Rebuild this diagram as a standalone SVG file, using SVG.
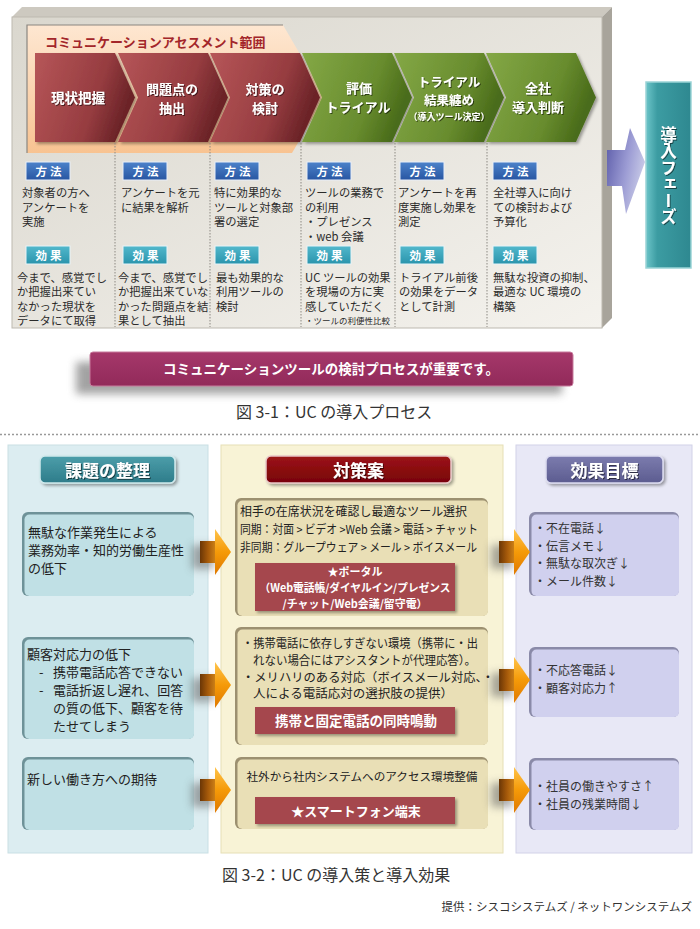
<svg xmlns="http://www.w3.org/2000/svg" width="700" height="929" viewBox="0 0 700 929">
<defs>
<style>
text{font-family:"Noto Sans CJK JP","Noto Sans",sans-serif;}
.cv{font-size:13px;font-weight:bold;fill:#fff;text-anchor:middle;}
.bdg{font-size:11.5px;font-weight:bold;fill:#fff;text-anchor:middle;letter-spacing:3px;}
.p{font-size:11.3px;fill:#2b2b2b;}
.sep{stroke:#8c8982;stroke-width:1;stroke-dasharray:1.5 1.5;fill:none;}
.hd{font-size:17px;font-weight:bold;fill:#fff;text-anchor:middle;}
.lt{font-size:13px;fill:#222;}
.mt{font-size:12px;fill:#222;}
.rt{font-size:12px;fill:#333;}
.rb{font-size:12px;font-weight:bold;fill:#fff;text-anchor:middle;}
.cap{font-size:16px;fill:#333;}
</style>
<linearGradient id="panelG" x1="0" y1="0" x2="1" y2="1"><stop offset="0" stop-color="#dad7ce"/><stop offset="1" stop-color="#f4f2ed"/></linearGradient>
<linearGradient id="rangeG" x1="0" y1="0" x2="0" y2="1"><stop offset="0" stop-color="#fee7d1"/><stop offset="1" stop-color="#f8c391"/></linearGradient>
<linearGradient id="redG" x1="0" y1="0" x2="1" y2="0.3"><stop offset="0" stop-color="#b65658"/><stop offset="0.7" stop-color="#963c40"/><stop offset="1" stop-color="#6c2428"/></linearGradient>
<linearGradient id="grnG" x1="0" y1="0" x2="1" y2="0.3"><stop offset="0" stop-color="#84a846"/><stop offset="0.7" stop-color="#688c2e"/><stop offset="1" stop-color="#4a6c1a"/></linearGradient>
<linearGradient id="blueB" x1="0" y1="0" x2="0" y2="1"><stop offset="0" stop-color="#4c82ca"/><stop offset="1" stop-color="#2856a2"/></linearGradient>
<linearGradient id="tealB" x1="0" y1="0" x2="0" y2="1"><stop offset="0" stop-color="#52b8cc"/><stop offset="1" stop-color="#2a94ac"/></linearGradient>
<linearGradient id="phaseG" x1="0" y1="0" x2="1" y2="0"><stop offset="0" stop-color="#6cc4c8"/><stop offset="0.25" stop-color="#3c9ca2"/><stop offset="1" stop-color="#2e8890"/></linearGradient>
<linearGradient id="purpG" x1="0" y1="0" x2="1" y2="0.4"><stop offset="0" stop-color="#5a5aa8"/><stop offset="0.6" stop-color="#9c9cd4"/><stop offset="1" stop-color="#c6c8e6"/></linearGradient>
<linearGradient id="shaftG" x1="0" y1="0" x2="1" y2="0"><stop offset="0" stop-color="#6a3606"/><stop offset="0.5" stop-color="#a65a0a"/><stop offset="1" stop-color="#d08418"/></linearGradient>
<linearGradient id="headG" x1="0" y1="0" x2="0" y2="1"><stop offset="0" stop-color="#ffc44c"/><stop offset="0.5" stop-color="#f59a08"/><stop offset="1" stop-color="#df7800"/></linearGradient>
<linearGradient id="tealH" x1="0" y1="0" x2="0" y2="1"><stop offset="0" stop-color="#4c9eaa"/><stop offset="1" stop-color="#2e7c8a"/></linearGradient>
<linearGradient id="redH" x1="0" y1="0" x2="0" y2="1"><stop offset="0" stop-color="#9c1418"/><stop offset="1" stop-color="#780408"/></linearGradient>
<linearGradient id="purH" x1="0" y1="0" x2="0" y2="1"><stop offset="0" stop-color="#7c7cae"/><stop offset="1" stop-color="#5c5c90"/></linearGradient>
<linearGradient id="bannerG" x1="0" y1="0" x2="0" y2="1"><stop offset="0" stop-color="#a5386a"/><stop offset="1" stop-color="#922a5a"/></linearGradient>
<filter id="ds" x="-10%" y="-10%" width="130%" height="140%"><feDropShadow dx="2" dy="2" stdDeviation="1.5" flood-color="#000" flood-opacity="0.35"/></filter>
<filter id="bl" x="-50%" y="-50%" width="200%" height="200%"><feGaussianBlur stdDeviation="4"/></filter>
<filter id="ts" x="-10%" y="-20%" width="130%" height="150%"><feDropShadow dx="1" dy="1" stdDeviation="0.6" flood-color="#000" flood-opacity="0.55"/></filter>
<g id="oarrow">
<rect x="-8" y="-7" width="22" height="24" fill="#555" opacity="0.5" filter="url(#bl)"/>
<rect x="0" y="-11" width="16" height="22" fill="url(#shaftG)"/>
<polygon points="15,-23 31,0 15,23" fill="url(#headG)"/>
</g>
</defs>

<!-- ===== Figure 3-1 ===== -->
<g id="panel">
<polygon points="12,17 22,7 612,7 602,17" fill="#cdc9c0"/>
<polygon points="602,17 612,7 612,318 602,328" fill="#a8a49b"/>
<rect x="12" y="17" width="590" height="311" fill="url(#panelG)" stroke="#bdb9b0"/>
</g>

<g id="range">
<polygon points="27,25 283,25 325,97 292,153 27,153" fill="url(#rangeG)"/>
<polyline points="27,153 27,25 283,25" fill="none" stroke="#8a8680" stroke-width="1.2"/>
<text x="45" y="47" style="font-size:13px;font-weight:bold;fill:#a3262a;">コミュニケーションアセスメント範囲</text>
</g>

<g id="chevrons" filter="url(#ds)">
<g id="step1"><polygon points="35,53 115,53 135,97.5 115,142 35,142" fill="url(#redG)"/>
<text class="cv" x="78" y="103" style="font-size:13.5px" filter="url(#ts)">現状把握</text></g>
<g id="step2"><polygon points="118,53 208,53 228,97.5 208,142 118,142 138,97.5" fill="url(#redG)"/>
<text class="cv" x="172" y="94" filter="url(#ts)">問題点の</text><text class="cv" x="172" y="113" filter="url(#ts)">抽出</text></g>
<g id="step3"><polygon points="210,53 300,53 320,97.5 300,142 210,142 230,97.5" fill="url(#redG)"/>
<text class="cv" x="265" y="94" filter="url(#ts)">対策の</text><text class="cv" x="265" y="113" filter="url(#ts)">検討</text></g>
<g id="step4"><polygon points="302,53 392,53 412,97.5 392,142 302,142 322,97.5" fill="url(#grnG)"/>
<text class="cv" x="359" y="93" filter="url(#ts)">評価</text><text class="cv" x="358" y="112" filter="url(#ts)">トライアル</text></g>
<g id="step5"><polygon points="394,53 484,53 504,97.5 484,142 394,142 414,97.5" fill="url(#grnG)"/>
<text class="cv" x="449" y="87" style="font-size:12.5px" filter="url(#ts)">トライアル</text><text class="cv" x="449" y="105" style="font-size:12.5px" filter="url(#ts)">結果纏め</text>
<text class="cv" x="449" y="119.5" style="font-size:9px" filter="url(#ts)">（導入ツール決定）</text></g>
<g id="step6"><polygon points="486,53 576,53 596,97.5 576,142 486,142 506,97.5" fill="url(#grnG)"/>
<text class="cv" x="538" y="93" filter="url(#ts)">全社</text><text class="cv" x="538" y="112" filter="url(#ts)">導入判断</text></g>
</g>

<g id="separators">
<line class="sep" x1="115" y1="143" x2="115" y2="327"/>
<line class="sep" x1="210" y1="143" x2="210" y2="327"/>
<line class="sep" x1="301" y1="143" x2="301" y2="327"/>
<line class="sep" x1="395" y1="143" x2="395" y2="327"/>
<line class="sep" x1="487" y1="143" x2="487" y2="327"/>
</g>

<g id="badges">
<g><rect x="26" y="162" width="44" height="18" fill="url(#blueB)" stroke="#e8eef8"/><text class="bdg" x="50" y="175.5">方法</text></g>
<g><rect x="123" y="162" width="44" height="18" fill="url(#blueB)" stroke="#e8eef8"/><text class="bdg" x="147" y="175.5">方法</text></g>
<g><rect x="215" y="162" width="44" height="18" fill="url(#blueB)" stroke="#e8eef8"/><text class="bdg" x="239" y="175.5">方法</text></g>
<g><rect x="307" y="162" width="44" height="18" fill="url(#blueB)" stroke="#e8eef8"/><text class="bdg" x="331" y="175.5">方法</text></g>
<g><rect x="400" y="162" width="44" height="18" fill="url(#blueB)" stroke="#e8eef8"/><text class="bdg" x="424" y="175.5">方法</text></g>
<g><rect x="493" y="162" width="44" height="18" fill="url(#blueB)" stroke="#e8eef8"/><text class="bdg" x="517" y="175.5">方法</text></g>
<g><rect x="26" y="246" width="44" height="18" fill="url(#tealB)" stroke="#e8f4f8"/><text class="bdg" x="50" y="259.5">効果</text></g>
<g><rect x="123" y="246" width="44" height="18" fill="url(#tealB)" stroke="#e8f4f8"/><text class="bdg" x="147" y="259.5">効果</text></g>
<g><rect x="215" y="246" width="44" height="18" fill="url(#tealB)" stroke="#e8f4f8"/><text class="bdg" x="239" y="259.5">効果</text></g>
<g><rect x="307" y="246" width="44" height="18" fill="url(#tealB)" stroke="#e8f4f8"/><text class="bdg" x="331" y="259.5">効果</text></g>
<g><rect x="400" y="246" width="44" height="18" fill="url(#tealB)" stroke="#e8f4f8"/><text class="bdg" x="424" y="259.5">効果</text></g>
<g><rect x="493" y="246" width="44" height="18" fill="url(#tealB)" stroke="#e8f4f8"/><text class="bdg" x="517" y="259.5">効果</text></g>
</g>

<g id="col-texts">
<text class="p" x="22" y="197">対象者の方へ</text>
<text class="p" x="22" y="211.5">アンケートを</text>
<text class="p" x="22" y="226">実施</text>
<text class="p" x="17" y="281.5">今まで、感覚でし</text>
<text class="p" x="17" y="296">か把握出来てい</text>
<text class="p" x="17" y="310.5">なかった現状を</text>
<text class="p" x="17" y="325">データにて取得</text>

<text class="p" x="121" y="197">アンケートを元</text>
<text class="p" x="121" y="211.5">に結果を解析</text>
<text class="p" x="118" y="281.5">今まで、感覚でし</text>
<text class="p" x="118" y="296">か把握出来ていな</text>
<text class="p" x="118" y="310.5">かった問題点を結</text>
<text class="p" x="118" y="325">果として抽出</text>

<text class="p" x="214" y="197">特に効果的な</text>
<text class="p" x="214" y="211.5">ツールと対象部</text>
<text class="p" x="214" y="226">署の選定</text>
<text class="p" x="216" y="281.5">最も効果的な</text>
<text class="p" x="216" y="296">利用ツールの</text>
<text class="p" x="216" y="310.5">検討</text>

<text class="p" x="305" y="197">ツールの業務で</text>
<text class="p" x="305" y="211.5">の利用</text>
<text class="p" x="305" y="226">・プレゼンス</text>
<text class="p" x="305" y="240.5">・web 会議</text>
<text class="p" x="305" y="281.5">UC ツールの効果</text>
<text class="p" x="305" y="296">を現場の方に実</text>
<text class="p" x="305" y="310.5">感していただく</text>
<text class="p" x="305" y="324" style="font-size:8.5px">・ツールの利便性比較</text>

<text class="p" x="398" y="197">アンケートを再</text>
<text class="p" x="398" y="211.5">度実施し効果を</text>
<text class="p" x="398" y="226">測定</text>
<text class="p" x="399" y="281.5">トライアル前後</text>
<text class="p" x="399" y="296">の効果をデータ</text>
<text class="p" x="399" y="310.5">として計測</text>

<text class="p" x="493" y="197">全社導入に向け</text>
<text class="p" x="493" y="211.5">ての検討および</text>
<text class="p" x="493" y="226">予算化</text>
<text class="p" x="493" y="281.5">無駄な投資の抑制、</text>
<text class="p" x="493" y="296">最適な UC 環境の</text>
<text class="p" x="493" y="310.5">構築</text>
</g>

<g id="to-phase">
<polygon points="607,150 625,150 630,128 645,162 626,214 622,186 607,186" fill="url(#purpG)"/>
</g>
<g id="phase">
<rect x="646" y="82" width="45" height="186" fill="url(#phaseG)" stroke="#9ad4d6" stroke-width="1.5"/>
<text x="668.5" y="126" style="writing-mode:vertical-rl;font-size:16.5px;font-weight:bold;fill:#fff;" filter="url(#ts)">導入フェーズ</text>
</g>

<g id="banner">
<rect x="76" y="362" width="486" height="32" fill="#666" opacity="0.6" filter="url(#bl)"/>
<rect x="90" y="352" width="483" height="34" rx="3" fill="url(#bannerG)" stroke="#c77a9c" stroke-width="1"/>
<text x="331" y="374" style="font-size:13.5px;font-weight:bold;fill:#fff;text-anchor:middle;">コミュニケーションツールの検討プロセスが重要です。</text>
</g>
<text class="cap" x="236" y="418">図 3-1：UC の導入プロセス</text>

<line x1="0" y1="434.5" x2="700" y2="434.5" stroke="#999" stroke-width="1.3" stroke-dasharray="2 2"/>

<!-- ===== Figure 3-2 ===== -->
<g id="columns">
<rect x="8" y="445" width="200" height="408" fill="#dcedf1" stroke="#c9dfe4"/>
<rect x="221" y="445" width="282" height="408" fill="#f8f3d6" stroke="#e6dfb6"/>
<rect x="516" y="445" width="176" height="408" fill="#e8e8f6" stroke="#d2d2e8"/>
</g>

<g id="hdr-issue">
<rect x="40" y="456" width="135" height="27" rx="5" fill="url(#tealH)" stroke="#cfe9ec" stroke-width="1.5" filter="url(#ds)"/>
<text class="hd" x="107.5" y="477" filter="url(#ts)">課題の整理</text>
</g>
<g id="hdr-measure">
<rect x="266" y="456" width="185" height="27" rx="5" fill="url(#redH)" stroke="#e8c8c8" stroke-width="1.5" filter="url(#ds)"/>
<text class="hd" x="358.5" y="477" filter="url(#ts)">対策案</text>
</g>
<g id="hdr-goal">
<rect x="546" y="456" width="117" height="27" rx="5" fill="url(#purH)" stroke="#dcdcf0" stroke-width="1.5" filter="url(#ds)"/>
<text class="hd" x="604.5" y="477" filter="url(#ts)">効果目標</text>
</g>

<g id="issue1">
<rect x="22" y="512" width="172" height="84" rx="6" fill="#6e9298"/>
<rect x="24.5" y="514.5" width="169.5" height="81.5" rx="5" fill="#c0e0e5"/>
<text class="lt" x="28" y="537">無駄な作業発生による</text>
<text class="lt" x="28" y="555">業務効率・知的労働生産性</text>
<text class="lt" x="28" y="573">の低下</text>
</g>
<g id="issue2">
<rect x="22" y="637" width="172" height="102" rx="6" fill="#6e9298"/>
<rect x="24.5" y="639.5" width="169.5" height="99.5" rx="5" fill="#c0e0e5"/>
<text class="lt" x="27" y="659">顧客対応力の低下</text>
<text class="lt" x="39" y="677">-</text><text class="lt" x="53" y="677">携帯電話応答できない</text>
<text class="lt" x="39" y="695">-</text><text class="lt" x="53" y="695">電話折返し遅れ、回答</text>
<text class="lt" x="53" y="713">の質の低下、顧客を待</text>
<text class="lt" x="53" y="731">たせてしまう</text>
</g>
<g id="issue3">
<rect x="22" y="757" width="172" height="73" rx="6" fill="#6e9298"/>
<rect x="24.5" y="759.5" width="169.5" height="70.5" rx="5" fill="#c0e0e5"/>
<text class="lt" x="27" y="784">新しい働き方への期待</text>
</g>

<g id="measure1">
<rect x="235" y="498" width="253" height="118" rx="6" fill="#9c9070"/>
<rect x="237.5" y="500.5" width="250.5" height="115.5" rx="5" fill="#e9dfb6"/>
<text class="mt" x="240" y="515.5" textLength="227" lengthAdjust="spacingAndGlyphs">相手の在席状況を確認し最適なツール選択</text>
<text class="mt" x="240" y="533.5" textLength="238" lengthAdjust="spacingAndGlyphs">同期：対面 &gt; ビデオ &gt;Web 会議 &gt; 電話 &gt; チャット</text>
<text class="mt" x="240" y="551.5" textLength="237" lengthAdjust="spacingAndGlyphs">非同期：グループウェア &gt; メール &gt; ボイスメール</text>
<rect x="255" y="563" width="200" height="48" fill="#a5464e" filter="url(#ds)"/>
<text class="rb" x="355" y="575.5" style="font-size:11px">★ポータル</text>
<text class="rb" x="355" y="591.5" style="font-size:11px" textLength="191" lengthAdjust="spacingAndGlyphs">（Web電話帳/ダイヤルイン/プレゼンス</text>
<text class="rb" x="355" y="607.5" style="font-size:11px" textLength="145" lengthAdjust="spacingAndGlyphs">/チャット/Web会議/留守電）</text>
</g>
<g id="measure2">
<rect x="235" y="627" width="253" height="118" rx="6" fill="#9c9070"/>
<rect x="237.5" y="629.5" width="250.5" height="115.5" rx="5" fill="#e9dfb6"/>
<text class="mt" x="242" y="647.5" textLength="236" lengthAdjust="spacingAndGlyphs">・携帯電話に依存しすぎない環境（携帯に・出</text>
<text class="mt" x="253" y="664.5" textLength="223" lengthAdjust="spacingAndGlyphs">れない場合にはアシスタントが代理応答）。</text>
<text class="mt" x="242" y="681.5" textLength="252" lengthAdjust="spacingAndGlyphs">・メリハリのある対応（ボイスメール対応、・</text>
<text class="mt" x="253" y="698" textLength="200" lengthAdjust="spacingAndGlyphs">人による電話応対の選択肢の提供）</text>
<rect x="255" y="707" width="200" height="27" fill="#a5464e" filter="url(#ds)"/>
<text class="rb" x="356" y="726" style="font-size:13.5px">携帯と固定電話の同時鳴動</text>
</g>
<g id="measure3">
<rect x="235" y="757" width="253" height="72" rx="6" fill="#9c9070"/>
<rect x="237.5" y="759.5" width="250.5" height="69.5" rx="5" fill="#e9dfb6"/>
<text class="mt" x="362" y="781" style="font-size:11.6px;text-anchor:middle">社外から社内システムへのアクセス環境整備</text>
<rect x="255" y="797" width="200" height="27" fill="#a5464e" filter="url(#ds)"/>
<text class="rb" x="356" y="816" style="font-size:13px">★スマートフォン端末</text>
</g>

<g id="goal1">
<rect x="529" y="512" width="150" height="84" rx="6" fill="#8a8aa8"/>
<rect x="531.5" y="514.5" width="147.5" height="81.5" rx="5" fill="#d0d0ee"/>
<text class="rt" x="534" y="533">・不在電話↓</text>
<text class="rt" x="534" y="550.5">・伝言メモ↓</text>
<text class="rt" x="534" y="568">・無駄な取次ぎ↓</text>
<text class="rt" x="534" y="585.5">・メール件数↓</text>
</g>
<g id="goal2">
<rect x="529" y="647" width="150" height="70" rx="6" fill="#8a8aa8"/>
<rect x="531.5" y="649.5" width="147.5" height="67.5" rx="5" fill="#d0d0ee"/>
<text class="rt" x="534" y="674.5">・不応答電話↓</text>
<text class="rt" x="534" y="692.5">・顧客対応力↑</text>
</g>
<g id="goal3">
<rect x="529" y="758" width="150" height="72" rx="6" fill="#8a8aa8"/>
<rect x="531.5" y="760.5" width="147.5" height="69.5" rx="5" fill="#d0d0ee"/>
<text class="rt" x="534" y="790.5">・社員の働きやすさ↑</text>
<text class="rt" x="534" y="808.5">・社員の残業時間↓</text>
</g>

<g id="connectors">
<use href="#oarrow" transform="translate(200,552)"/>
<use href="#oarrow" transform="translate(200,685)"/>
<use href="#oarrow" transform="translate(200,790)"/>
<use href="#oarrow" transform="translate(499,552)"/>
<use href="#oarrow" transform="translate(499,680)"/>
<use href="#oarrow" transform="translate(499,790)"/>
</g>

<text class="cap" x="222" y="881">図 3-2：UC の導入策と導入効果</text>
<text x="692" y="911" style="font-size:11.5px;fill:#333;text-anchor:end;">提供：シスコシステムズ / ネットワンシステムズ</text>
</svg>
